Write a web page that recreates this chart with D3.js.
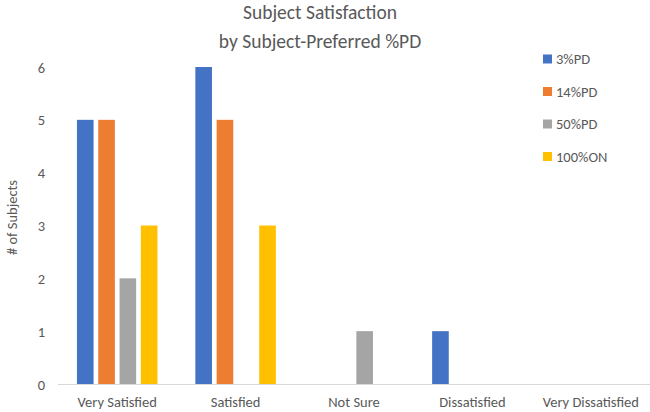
<!DOCTYPE html>
<html>
<head>
<meta charset="utf-8">
<script src="https://cdn.jsdelivr.net/npm/d3@7"></script>
<style>
  html, body { margin: 0; padding: 0; background: #fff; }
  svg { display: block; }
  text { font-family: Carlito, Lato, "Open Sans", sans-serif; fill: #595959; }
</style>
</head>
<body>
<svg id="chart" width="650" height="412"></svg>
<script>
const categories = ["Very Satisfied", "Satisfied", "Not Sure", "Dissatisfied", "Very Dissatisfied"];
const seriesNames = ["3%PD", "14%PD", "50%PD", "100%ON"];
const seriesColors = ["#4472C4", "#ED7D31", "#A5A5A5", "#FFC000"];
const values3PD = [5, 6, 0, 1, 0];
const values14PD = [5, 5, 0, 0, 0];
const values50PD = [2, 0, 1, 0, 0];
const values100ON = [3, 3, 0, 0, 0];
const yTicks = [0, 1, 2, 3, 4, 5, 6];
const titleLines = ["Subject Satisfaction", "by Subject-Preferred %PD"];
const yTitle = "# of Subjects";

const seriesValues = [values3PD, values14PD, values50PD, values100ON];
const svg = d3.select("#chart");

const plot = { left: 58, right: 650, top: 67, bottom: 384 };

const x0 = d3.scaleBand().domain(categories).range([plot.left, plot.right])
  .paddingInner(0.32).paddingOuter(0.16);
const x1 = d3.scaleBand().domain(seriesNames).range([0, x0.bandwidth()])
  .paddingInner(0.22).paddingOuter(0);
const y = d3.scaleLinear().domain([0, 6]).range([plot.bottom, plot.top]);

// Title
svg.append("g").selectAll("text").data(titleLines).join("text")
  .attr("x", 320).attr("y", (d, i) => 19 + i * 28.5)
  .attr("text-anchor", "middle").style("font-size", "19.5px")
  .text(d => d);

// Bars
const groups = svg.append("g").selectAll("g").data(categories).join("g")
  .attr("transform", d => `translate(${x0(d)},0)`);
groups.selectAll("rect")
  .data((c, ci) => seriesNames.map((s, si) => ({ s, si, v: seriesValues[si][ci] })).filter(d => d.v > 0))
  .join("rect")
  .attr("x", d => x1(d.s))
  .attr("width", x1.bandwidth())
  .attr("y", d => y(d.v))
  .attr("height", d => y(0) - y(d.v))
  .attr("fill", d => seriesColors[d.si]);

// Y axis (labels only)
const yAxis = d3.axisLeft(y).tickValues(yTicks).tickSize(0).tickPadding(0).tickFormat(d3.format("d"));
const yg = svg.append("g").attr("transform", `translate(45,0)`).call(yAxis);
yg.select(".domain").remove();
yg.selectAll("text").style("font-size", "14.5px").attr("fill", "#595959").attr("dy", "0.35em");

// X axis
const xAxis = d3.axisBottom(x0).tickSize(0).tickPadding(13);
const xg = svg.append("g").attr("transform", `translate(0,${plot.bottom})`).call(xAxis);
xg.select(".domain").attr("stroke", "#D9D9D9").attr("stroke-width", 1)
  .attr("d", `M${plot.left},0.5H${plot.right}`);
xg.selectAll("text").style("font-size", "14.5px").attr("fill", "#595959");

// Y title
svg.append("text")
  .attr("transform", `translate(12,${(plot.top + plot.bottom) / 2 - 8}) rotate(-90)`)
  .attr("text-anchor", "middle").style("font-size", "14.5px")
  .attr("dy", "0.35em")
  .text(yTitle);

// Legend
const legend = svg.append("g").selectAll("g").data(seriesNames).join("g")
  .attr("transform", (d, i) => `translate(543,${59 + i * 32.5})`);
legend.append("rect").attr("x", 0).attr("y", -4.5).attr("width", 9).attr("height", 9)
  .attr("fill", (d, i) => seriesColors[i]);
legend.append("text").attr("x", 13).attr("y", 0).attr("dy", "0.35em")
  .style("font-size", "14.5px").text(d => d);
</script>
</body>
</html>
